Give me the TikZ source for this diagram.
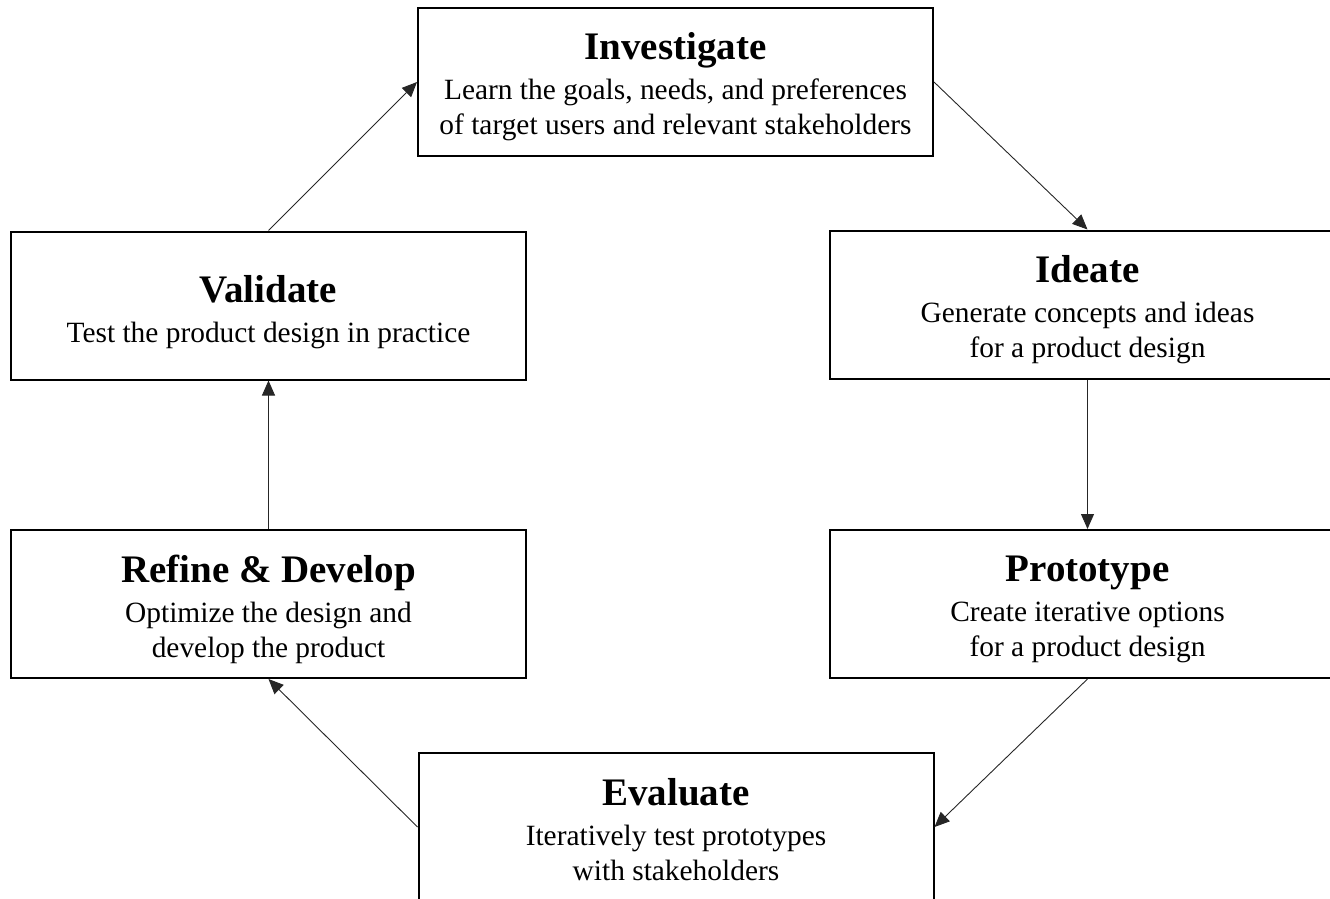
\documentclass[tikz,border=0pt]{standalone}
\usepackage{fontspec}
\setmainfont{Liberation Serif}
\usetikzlibrary{arrows.meta}

\newcommand{\stagetitle}[1]{{\fontsize{39}{40}\selectfont\bfseries #1}\\[5pt]}

\tikzset{
  stagebox/.style={draw=black, line width=2pt, fill=white,
    minimum width=515pt, minimum height=148pt, inner sep=0pt},
  stagetext/.style={align=center, inner sep=0pt,
    font=\fontsize{29.4}{35}\selectfont},
  flow/.style={line width=0.9pt, draw=black!85,
    -{Triangle[length=15pt,width=13pt]}}
}

\begin{document}
\begin{tikzpicture}[x=1pt, y=-1pt]
  \useasboundingbox (0,0) rectangle (1330,899);
  \clip (0,0) rectangle (1330,899);

  % the six stages of the design cycle
  \node[stagebox] (inv) at (675.5,82) {};
  \node[stagebox] (ide) at (1087.5,304.5) {};
  \node[stagebox] (pro) at (1087.5,604) {};
  \node[stagebox] (eva) at (676,827) {};
  \node[stagebox] (ref) at (268.5,604) {};
  \node[stagebox] (val) at (268.5,305.5) {};

  % their titles and descriptions, set a little below each box centre
  \node[stagetext] (invtext) at ([yshift=-5pt]inv.center)
    {\stagetitle{Investigate}Learn the goals, needs, and preferences\\of target users and relevant stakeholders};
  \node[stagetext] (idetext) at ([yshift=-5pt]ide.center)
    {\stagetitle{Ideate}Generate concepts and ideas\\for a product design};
  \node[stagetext] (protext) at ([yshift=-5pt]pro.center)
    {\stagetitle{Prototype}Create iterative options\\for a product design};
  \node[stagetext] (evatext) at ([yshift=-3pt]eva.center)
    {\stagetitle{Evaluate}Iteratively test prototypes\\with stakeholders};
  \node[stagetext] (reftext) at ([yshift=-5pt]ref.center)
    {\stagetitle{Refine \& Develop}Optimize the design and\\develop the product};
  \node[stagetext] (valtext) at ([yshift=-7pt]val.center)
    {\stagetitle{Validate}Test the product design in practice};

  % connectors around the cycle
  \draw[flow] (inv.east) -- (ide.north);
  \draw[flow] (ide.south) -- (pro.north);
  \draw[flow] (pro.south) -- (eva.east);
  \draw[flow] (eva.west) -- (ref.south);
  \draw[flow] (ref.north) -- (val.south);
  \draw[flow] (val.north) -- (inv.west);
\end{tikzpicture}
\end{document}
